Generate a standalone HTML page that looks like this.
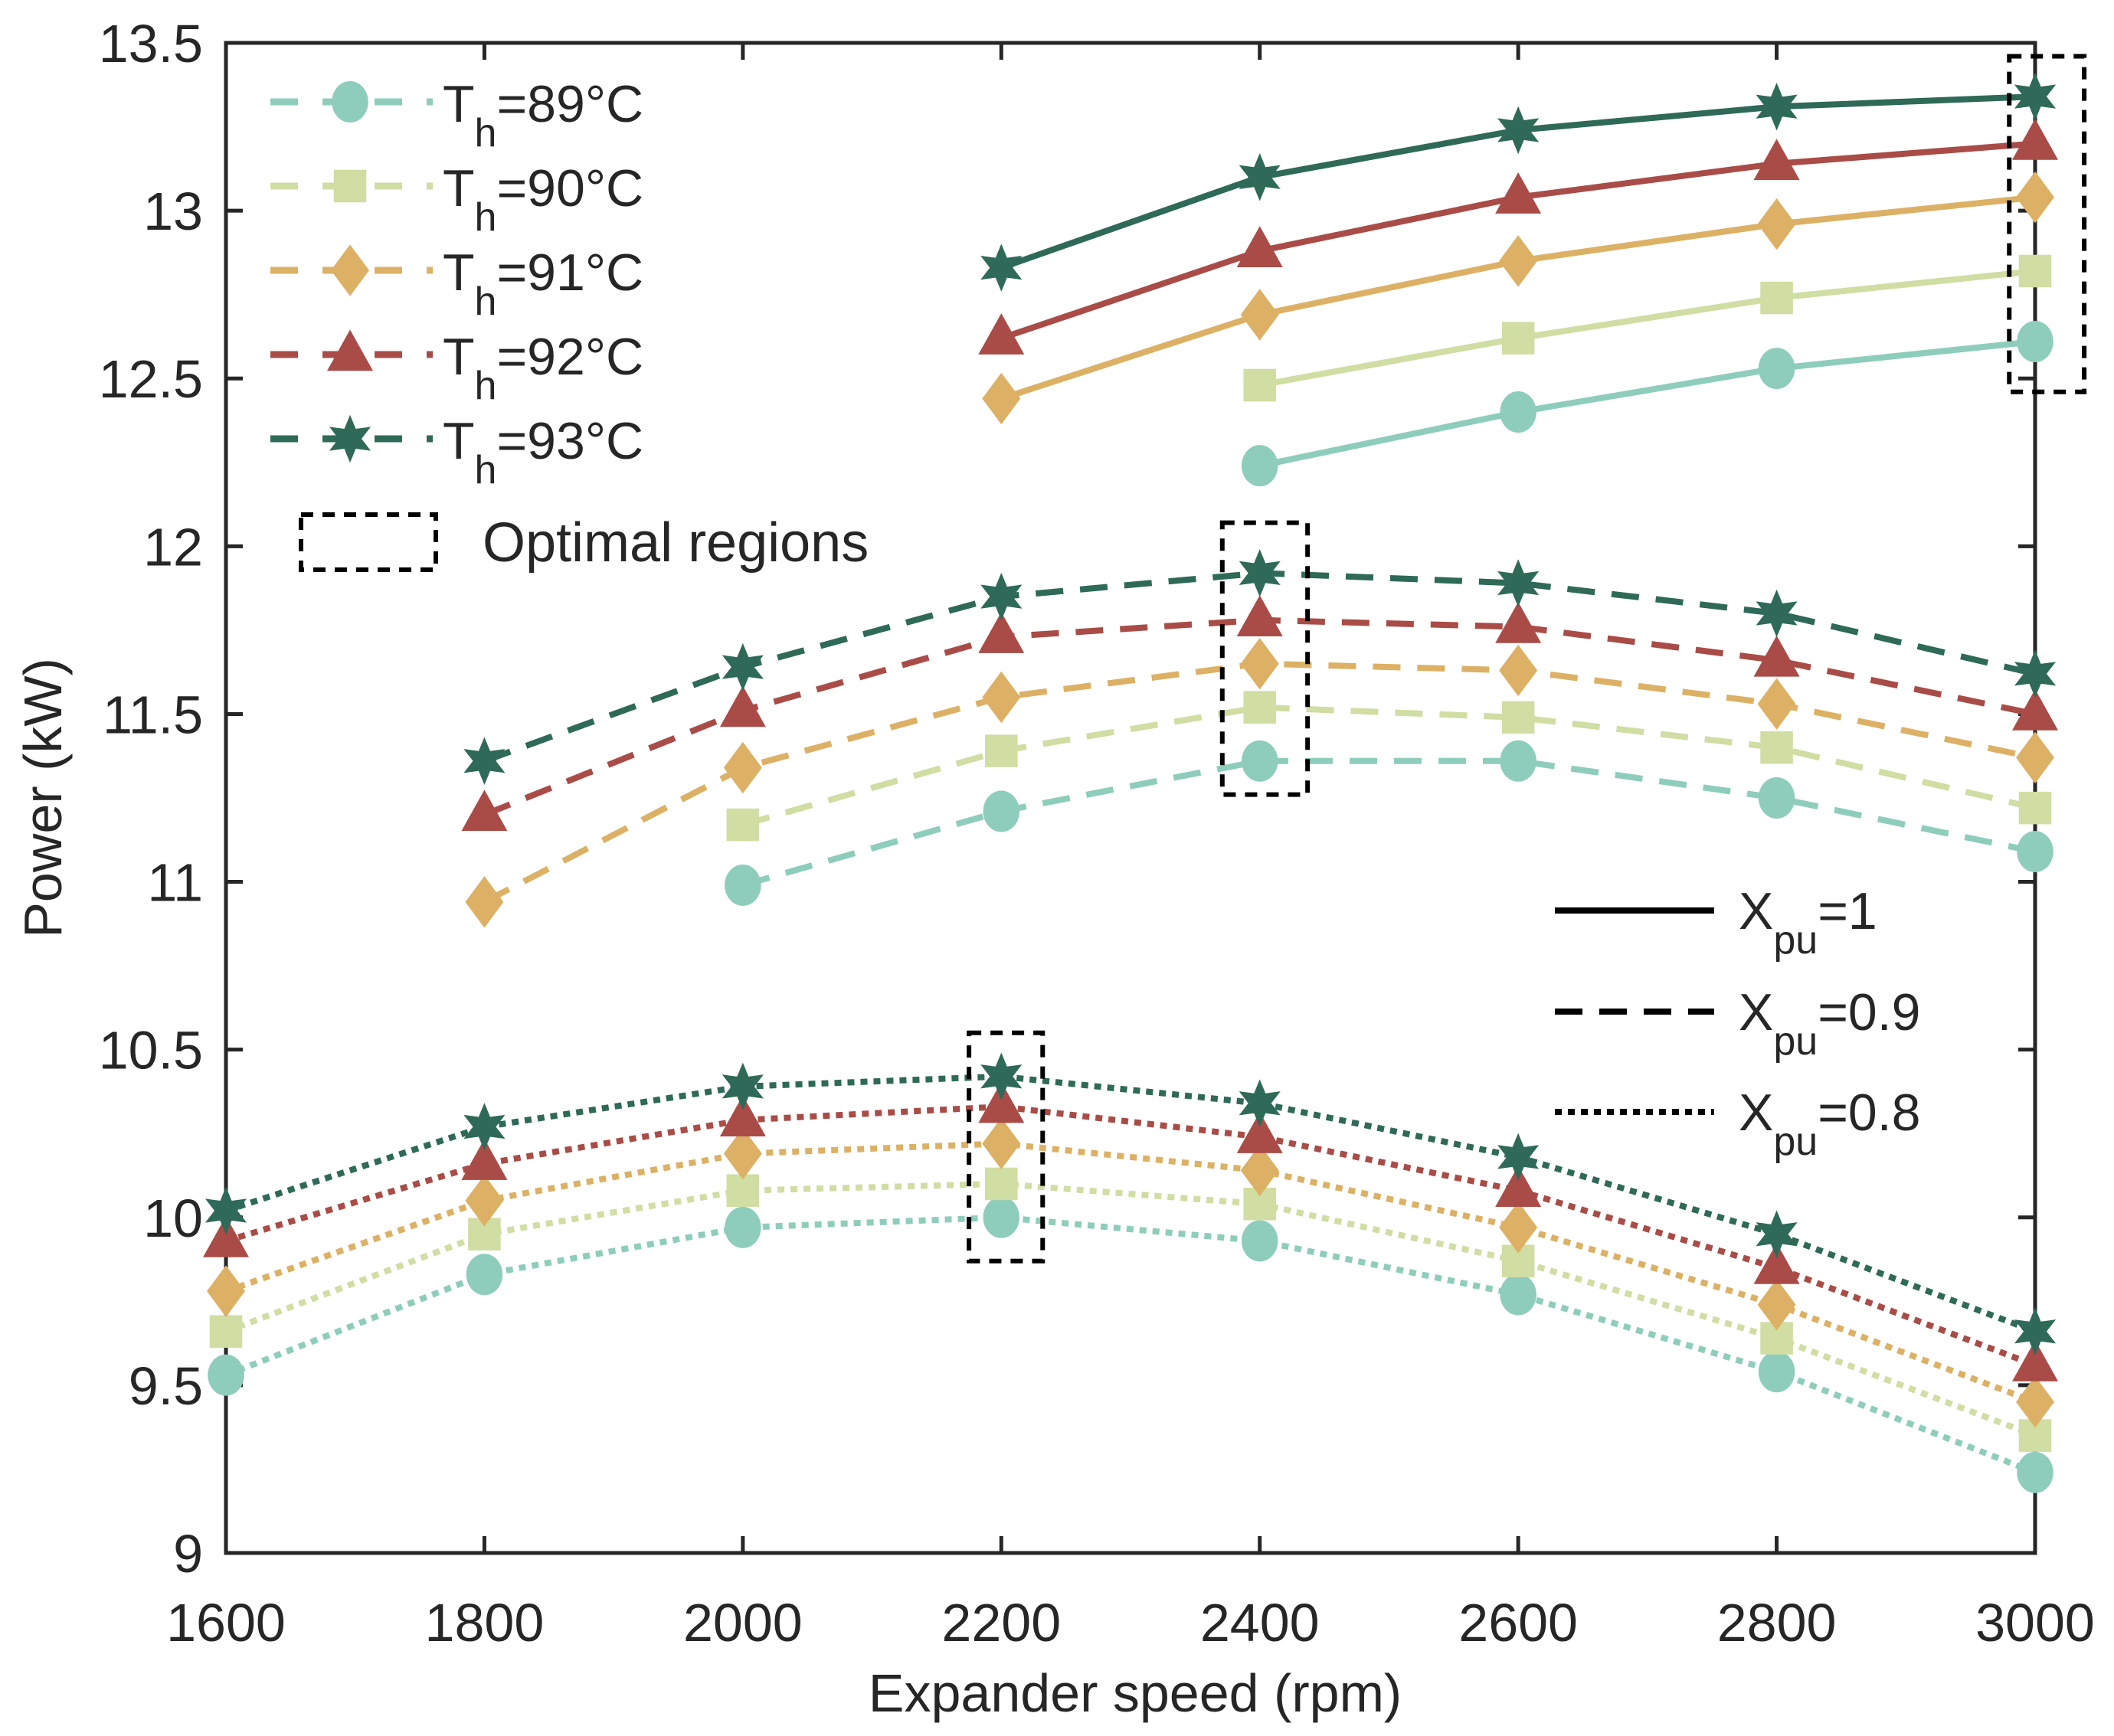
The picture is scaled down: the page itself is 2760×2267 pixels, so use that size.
<!DOCTYPE html>
<html><head><meta charset="utf-8"><style>
html,body{margin:0;padding:0;background:#fff}
svg text{font-family:"Liberation Sans",Arial,sans-serif;fill:#262626}
</style></head><body>
<svg id="chart" width="2760" height="2262" xmlns="http://www.w3.org/2000/svg">
<g id="plot"></g>
</svg>
<script>
const speeds=[1600,1800,2000,2200,2400,2600,2800,3000];
const temps=["89","90","91","92","93"];
const colors=["#8ecdbb","#d0dda3","#dcb165","#a94c47","#2e6a57"];
const markers=["circle","square","diamond","triangle","star"];
const xpu1=[
 [null,null,null,null,12.24,12.40,12.53,12.61],
 [null,null,null,null,12.48,12.62,12.74,12.82],
 [null,null,null,12.44,12.69,12.85,12.96,13.04],
 [null,null,null,12.62,12.88,13.04,13.14,13.20],
 [null,null,null,12.83,13.10,13.24,13.31,13.34]];
const xpu09=[
 [null,null,10.99,11.21,11.36,11.36,11.25,11.09],
 [null,null,11.17,11.39,11.52,11.49,11.40,11.22],
 [null,10.94,11.34,11.55,11.65,11.63,11.53,11.37],
 [null,11.20,11.51,11.73,11.78,11.76,11.66,11.50],
 [null,11.36,11.64,11.85,11.92,11.89,11.80,11.62]];
const xpu08=[
 [9.53,9.83,9.97,10.00,9.93,9.77,9.54,9.24],
 [9.66,9.95,10.08,10.10,10.04,9.87,9.64,9.35],
 [9.78,10.05,10.19,10.22,10.14,9.97,9.74,9.45],
 [9.93,10.16,10.29,10.33,10.24,10.08,9.85,9.56],
 [10.02,10.27,10.39,10.42,10.34,10.18,9.95,9.66]];
const xTicks=[1600,1800,2000,2200,2400,2600,2800,3000];
const yTicks=[9,9.5,10,10.5,11,11.5,12,12.5,13,13.5];
const yTickLabels=["9","9.5","10","10.5","11","11.5","12","12.5","13","13.5"];
const optimal=[{x0:2980,x1:3038,y0:12.46,y1:13.46},{x0:2371,x1:2437,y0:11.26,y1:12.07},{x0:2175,x1:2232,y0:9.87,y1:10.55}];

const L=295,R=2657,T=56,B=2028;
const X=v=>L+(v-1600)/(3000-1600)*(R-L);
const Y=v=>B-(v-9)/(13.5-9)*(B-T);
const NS="http://www.w3.org/2000/svg";
const svg=document.getElementById('chart');
function mk(tag,attrs,parent){const e=document.createElementNS(NS,tag);for(const k in attrs)e.setAttribute(k,attrs[k]);(parent||svg).appendChild(e);return e;}

const box=mk('rect',{x:L,y:T,width:R-L,height:B-T,fill:'none',stroke:'#262626','stroke-width':5});


xTicks.forEach(t=>{
 const x=X(t);
 const a=mk('path',{d:`M${x},${B}v-22M${x},${T}v22`,stroke:'#262626','stroke-width':5});
 
 
 const tx=mk('text',{x:x,y:2143,'font-size':70,'text-anchor':'middle'});tx.textContent=t;
 
 
});
yTicks.forEach((t,i)=>{
 const y=Y(t);
 const a=mk('path',{d:`M${L},${y}h22M${R},${y}h-22`,stroke:'#262626','stroke-width':5});
 
 
 const tx=mk('text',{x:265,y:y+25,'font-size':70,'text-anchor':'end'});tx.textContent=yTickLabels[i];
 
 
});
const xl=mk('text',{x:1482,y:2235,'font-size':70,'text-anchor':'middle'});xl.textContent='Expander speed (rpm)';


const yl=mk('text',{x:0,y:0,'font-size':70,'text-anchor':'middle',transform:'translate(80,1042) rotate(-90)'});yl.textContent='Power (kW)';



function marker(type,cx,cy,color,g){
 const s=25;let e;
 if(type==='circle')e=mk('ellipse',{cx:cx,cy:cy,rx:s*0.95,ry:s*1.08,fill:color},g);
 else if(type==='square')e=mk('rect',{x:cx-s*0.85,y:cy-s*0.85,width:s*1.7,height:s*1.7,fill:color},g);
 else if(type==='diamond')e=mk('polygon',{points:`${cx},${cy-s*1.35} ${cx+s},${cy} ${cx},${cy+s*1.35} ${cx-s},${cy}`,fill:color},g);
 else if(type==='triangle')e=mk('polygon',{points:`${cx},${cy-s*1.3} ${cx+s*1.2},${cy+s*0.85} ${cx-s*1.2},${cy+s*0.85}`,fill:color},g);
 else{const p=[];for(let i=0;i<12;i++){const r=i%2?s*0.6:s*1.25;const a=Math.PI/6*i-Math.PI/2;p.push((cx+r*Math.cos(a))+','+(cy+r*Math.sin(a)));}e=mk('polygon',{points:p.join(' '),fill:color},g);}
 
 
}
const groups=[[xpu08,'9,8','dotted'],[xpu09,'36,22','dashed'],[xpu1,null,'solid']];
groups.forEach(([data,dash,nm])=>{
 data.forEach((series,si)=>{
  const g=mk('g',{});
  
  
  const pts=[];series.forEach((v,i)=>{if(v!=null)pts.push([X(speeds[i]),Y(v)]);});
  const a={points:pts.map(p=>p.join(',')).join(' '),fill:'none',stroke:colors[si],'stroke-width':8};
  if(dash)a['stroke-dasharray']=dash;
  const pl=mk('polyline',a,g);
  
  
  pts.forEach(p=>marker(markers[si],p[0],p[1],colors[si],g));
 });
});
optimal.forEach(o=>{
 const r=mk('rect',{x:X(o.x0),y:Y(o.y1),width:X(o.x1)-X(o.x0),height:Y(o.y0)-Y(o.y1),fill:'none',stroke:'#000','stroke-width':6,'stroke-dasharray':'16,12'});
 
 
});
temps.forEach((t,i)=>{
 const y=133+i*110;
 const g=mk('g',{});
 
 
 mk('line',{x1:353,x2:565,y1:y,y2:y,stroke:colors[i],'stroke-width':9,'stroke-dasharray':'36,32'},g);
 marker(markers[i],457,y,colors[i],g);
 const tx=mk('text',{x:578,y:y+26,'font-size':68,fill:'#000'},g);
 tx.innerHTML='T<tspan font-size="52" dy="32">h</tspan><tspan dy="-32">='+t+'°C</tspan>';
});
const lg=mk('g',{});


mk('rect',{x:393,y:672,width:176,height:72,fill:'none',stroke:'#000','stroke-width':6,'stroke-dasharray':'16,12'},lg);
const ot=mk('text',{x:630,y:733,'font-size':72,fill:'#000'},lg);ot.textContent='Optimal regions';
[['1',null,1189],['0.9','36,22',1321],['0.8','9,8',1452]].forEach(([v,d,y])=>{
 const g=mk('g',{});
 
 
 const a={x1:2030,x2:2238,y1:y,y2:y,stroke:'#000','stroke-width':8};if(d)a['stroke-dasharray']=d;
 mk('line',a,g);
 const tx=mk('text',{x:2270,y:y+24,'font-size':68,fill:'#000'},g);
 tx.innerHTML='X<tspan font-size="52" dy="32">pu</tspan><tspan dy="-32">='+v+'</tspan>';
});
</script>
</body></html>
